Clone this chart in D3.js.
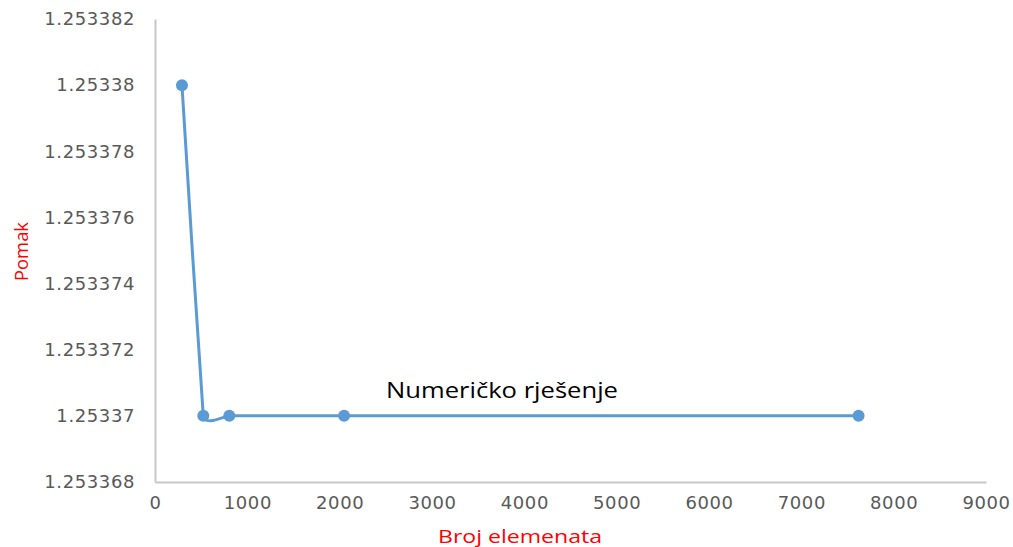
<!DOCTYPE html>
<html>
<head>
<meta charset="utf-8">
<script src="https://cdn.jsdelivr.net/npm/d3@7"></script>
<style>
  body { margin: 0; background: #fff; }
  svg text { font-family: "Open Sans", "DejaVu Sans", sans-serif; }
</style>
</head>
<body>
<div id="chart"></div>
<script>
// values
const elements = [292, 523, 805, 2048, 7620];
const displacement = [1.25338, 1.25337, 1.25337, 1.25337, 1.25337];
const xTicks = [0, 1000, 2000, 3000, 4000, 5000, 6000, 7000, 8000, 9000];
const yTicks = [1.253368, 1.25337, 1.253372, 1.253374, 1.253376, 1.253378, 1.25338, 1.253382];

const width = 1013;
const height = 547;
const margin = { top: 19, right: 27, bottom: 65, left: 155 };

const svg = d3.select('#chart')
    .append('svg')
    .attr('width', width)
    .attr('height', height);

const xScale = d3.scaleLinear()
    .domain([0, 9000])
    .range([margin.left, width - margin.right]);

const yScale = d3.scaleLinear()
    .domain([1.253368, 1.253382])
    .range([height - margin.bottom, margin.top]);

const xAxis = d3.axisBottom(xScale)
    .tickValues(xTicks)
    .tickSize(0)
    .tickPadding(14)
    .tickFormat(d3.format('d'));

const yAxis = d3.axisLeft(yScale)
    .tickValues(yTicks)
    .tickSize(0)
    .tickPadding(20)
    .tickFormat(d => String(+d.toFixed(6)));

const gx = svg.append('g')
    .attr('transform', `translate(0, ${height - margin.bottom})`)
    .call(xAxis);

const gy = svg.append('g')
    .attr('transform', `translate(${margin.left}, 0)`)
    .call(yAxis);

[gx, gy].forEach(g => {
    g.select('.domain').attr('stroke', '#c8c8c8').attr('stroke-width', 2);
    g.selectAll('text')
        .attr('fill', '#595959')
        .style('font-size', '18px')
        .style('letter-spacing', '0.6px')
        .style('font-family', '"DejaVu Sans", sans-serif');
});

// excel-like smoothing, kept tight so the dip after the drop stays small
const line = d3.line()
    .x((d, i) => xScale(elements[i]))
    .y(d => yScale(d))
    .curve(d3.curveCardinal.tension(0.8));

svg.append('path')
    .datum(displacement)
    .attr('fill', 'none')
    .attr('stroke', '#5b9bd5')
    .attr('stroke-width', 3)
    .attr('d', line);

svg.selectAll('.dot')
    .data(displacement)
    .enter()
    .append('circle')
    .attr('class', 'dot')
    .attr('cx', (d, i) => xScale(elements[i]))
    .attr('cy', d => yScale(d))
    .attr('r', 6)
    .attr('fill', '#5b9bd5');

svg.append('text')
    .attr('x', 386)
    .attr('y', 398)
    .attr('fill', '#000')
    .attr('textLength', 232)
    .attr('lengthAdjust', 'spacingAndGlyphs')
    .style('font-size', '22px')
    .text('Numeričko rješenje');

svg.append('text')
    .attr('x', 438)
    .attr('y', 543)
    .attr('fill', '#ff0000')
    .attr('textLength', 164)
    .attr('lengthAdjust', 'spacingAndGlyphs')
    .style('font-size', '18px')
    .text('Broj elemenata');

svg.append('text')
    .attr('transform', 'translate(28, 281) rotate(-90)')
    .attr('fill', '#ff0000')
    .attr('textLength', 59)
    .attr('lengthAdjust', 'spacingAndGlyphs')
    .style('font-size', '18px')
    .text('Pomak');
</script>
</body>
</html>
